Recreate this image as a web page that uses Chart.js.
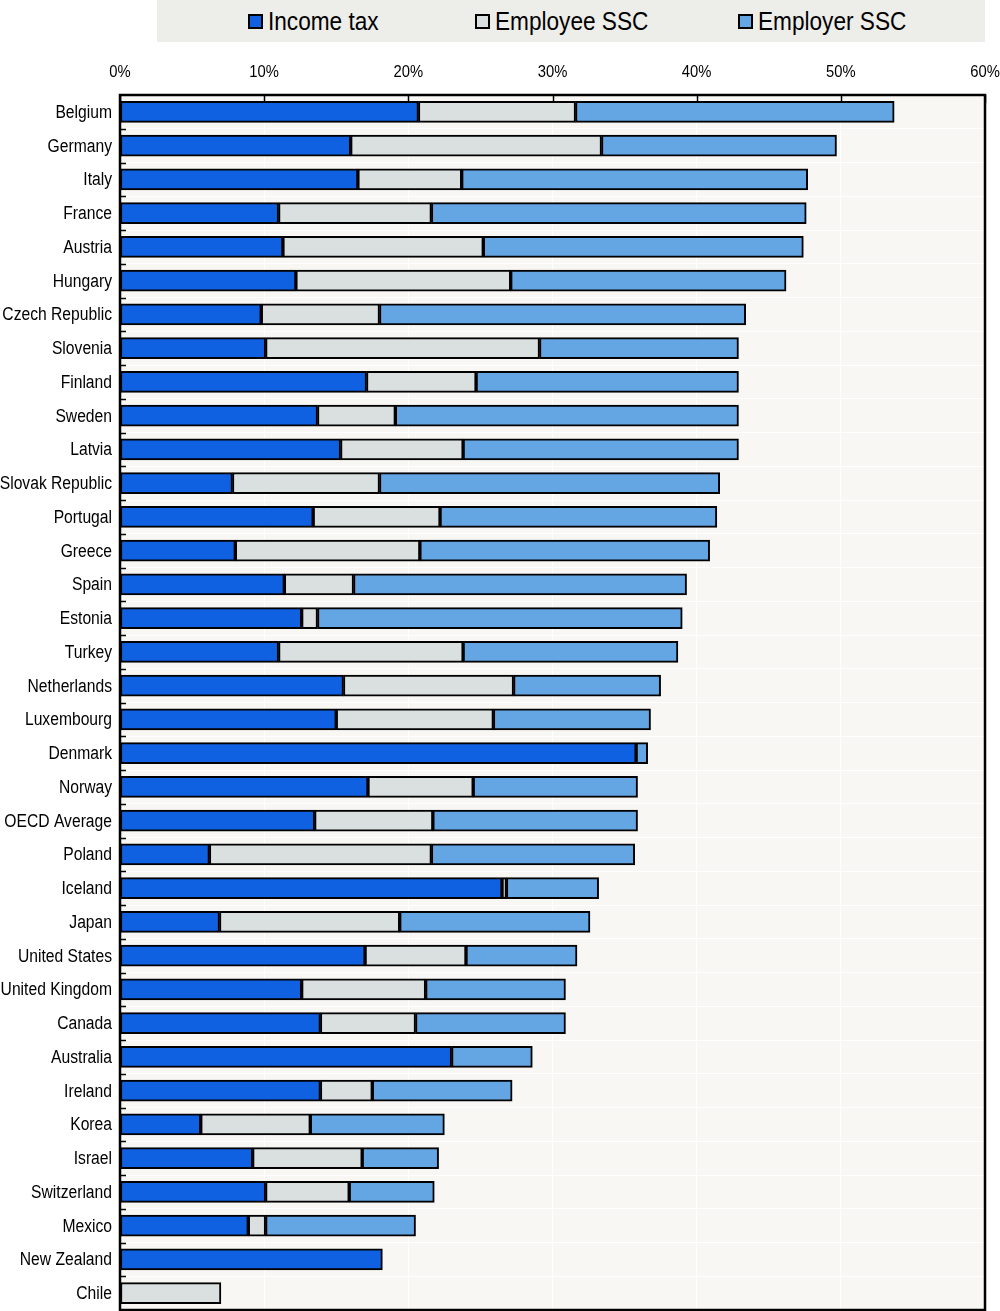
<!DOCTYPE html>
<html>
<head>
<meta charset="utf-8">
<script src="https://cdn.jsdelivr.net/npm/chart.js@4.4.1/dist/chart.umd.min.js"></script>
<style>
  html, body { margin: 0; padding: 0; background: #ffffff; }
  #wrap { position: relative; width: 1000px; height: 1311px; }
  #legend {
    position: absolute; left: 157px; top: 0; width: 828px; height: 42px;
    background: #ededea;
    font-family: "Liberation Sans", Arial, sans-serif;
    font-size: 26px; color: #000;
  }
  .item { position: absolute; top: 0; height: 42px; display: flex; align-items: center; white-space: nowrap; }
  .box { width: 11px; height: 11px; border: 2px solid #000; margin-right: 5px; flex: none; }
  .txt { display: inline-block; transform: scaleX(0.87); transform-origin: left center; }
</style>
</head>
<body>
<div id="wrap">
  <canvas id="chart" width="1000" height="1311"></canvas>
  <div id="legend"></div>
</div>
<script>
const countries = ['Belgium', 'Germany', 'Italy', 'France', 'Austria', 'Hungary', 'Czech Republic',
  'Slovenia', 'Finland', 'Sweden', 'Latvia', 'Slovak Republic', 'Portugal', 'Greece', 'Spain',
  'Estonia', 'Turkey', 'Netherlands', 'Luxembourg', 'Denmark', 'Norway', 'OECD Average', 'Poland',
  'Iceland', 'Japan', 'United States', 'United Kingdom', 'Canada', 'Australia', 'Ireland', 'Korea',
  'Israel', 'Switzerland', 'Mexico', 'New Zealand', 'Chile'];

const incomeTax = [20.7, 16.0, 16.5, 11.0, 11.3, 12.2, 9.8, 10.1, 17.1, 13.7, 15.3, 7.8, 13.4, 8.0,
  11.4, 12.6, 11.0, 15.5, 15.0, 35.8, 17.2, 13.5, 6.2, 26.5, 6.9, 17.0, 12.6, 13.9, 23.0, 13.9, 5.6,
  9.2, 10.1, 8.9, 18.2, null];
const employeeSSC = [10.9, 17.4, 7.2, 10.6, 13.9, 14.9, 8.2, 19.0, 7.6, 5.4, 8.5, 10.2, 8.8, 12.8,
  4.8, 1.1, 12.8, 11.8, 10.9, null, 7.3, 8.2, 15.4, 0.3, 12.5, 7.0, 8.6, 6.6, null, 3.6, 7.6, 7.6,
  5.8, 1.2, null, 7.0];
const employerSSC = [22.1, 16.3, 24.0, 26.0, 22.2, 19.1, 25.4, 13.8, 18.2, 23.8, 19.1, 23.6, 19.2,
  20.1, 23.1, 25.3, 14.9, 10.2, 10.9, 0.8, 11.4, 14.2, 14.1, 6.4, 13.2, 7.7, 9.7, 10.4, 5.6, 9.7, 9.3,
  5.3, 5.9, 10.4, null, null];

const xTicks = [0, 10, 20, 30, 40, 50, 60];

const seriesNames = ['Income tax', 'Employee SSC', 'Employer SSC'];
const seriesColors = ['#0f61e2', '#dadfdf', '#64a5e4'];
const legendLeft = [91, 318, 581];

const labelFont = '"Liberation Sans", Arial, sans-serif';
const squeeze = 0.87; // narrow look, no condensed font installed

// html legend
const legend = document.getElementById('legend');
seriesNames.forEach(function (name, i) {
  legend.insertAdjacentHTML('beforeend',
    `<div class="item" style="left:${legendLeft[i]}px"><div class="box" style="background:${seriesColors[i]}"></div><span class="txt">${name}</span></div>`);
});

function narrowText(ctx, text, x, y, align) {
  ctx.save();
  ctx.translate(x, y);
  ctx.scale(squeeze, 1);
  ctx.textAlign = align;
  ctx.fillText(text, 0, 0);
  ctx.restore();
}

// plot background, inner tick marks, border and labels
const plotDecor = {
  id: 'plotDecor',
  beforeDraw(chart) {
    const ctx = chart.ctx;
    const a = chart.chartArea;
    ctx.save();
    ctx.fillStyle = '#f8f7f4';
    ctx.fillRect(a.left, a.top, a.right - a.left, a.bottom - a.top);
    ctx.restore();
  },
  afterDraw(chart) {
    const ctx = chart.ctx;
    const a = chart.chartArea;
    const x = chart.scales.x;
    const y = chart.scales.y;
    ctx.save();
    ctx.strokeStyle = '#000';
    ctx.lineWidth = 1.5;
    ctx.beginPath();
    xTicks.forEach(function (v) {
      const px = Math.round(x.getPixelForValue(v)) + 0.5;
      ctx.moveTo(px, a.top);
      ctx.lineTo(px, a.top + 8);
    });
    for (let i = 0; i < countries.length - 1; i++) {
      const py = Math.round((y.getPixelForValue(i) + y.getPixelForValue(i + 1)) / 2) + 0.5;
      ctx.moveTo(a.left, py);
      ctx.lineTo(a.left + 6, py);
    }
    ctx.stroke();
    ctx.lineWidth = 2.5;
    ctx.strokeRect(a.left, a.top, a.right - a.left, a.bottom - a.top);

    ctx.fillStyle = '#000';
    ctx.textBaseline = 'middle';
    ctx.font = '17px ' + labelFont;
    xTicks.forEach(function (v) {
      narrowText(ctx, v + '%', x.getPixelForValue(v), a.top - 23, 'center');
    });
    ctx.font = '18px ' + labelFont;
    countries.forEach(function (c, i) {
      narrowText(ctx, c, a.left - 8, y.getPixelForValue(i) + 1, 'right');
    });
    ctx.restore();
  }
};

const datasets = [incomeTax, employeeSSC, employerSSC].map(function (values, i) {
  return {
    label: seriesNames[i],
    data: values,
    backgroundColor: seriesColors[i],
    borderColor: '#000',
    borderWidth: 2,
    borderSkipped: false,
    barThickness: 21
  };
});

new Chart(document.getElementById('chart').getContext('2d'), {
  type: 'bar',
  data: { labels: countries, datasets: datasets },
  options: {
    indexAxis: 'y',
    responsive: false,
    animation: false,
    layout: { padding: { top: 50, right: 15, bottom: 1, left: 0 } },
    plugins: { legend: { display: false }, tooltip: { enabled: false } },
    scales: {
      x: {
        position: 'top',
        stacked: true,
        min: 0,
        max: 60,
        afterFit(scale) { scale.height = 45; },
        afterBuildTicks(scale) { scale.ticks = xTicks.map(v => ({ value: v })); },
        grid: { color: '#ffffff', lineWidth: 1, drawTicks: false },
        border: { display: false },
        ticks: { display: false }
      },
      y: {
        stacked: true,
        afterFit(scale) { scale.width = 120; },
        grid: { color: '#ffffff', lineWidth: 1, drawTicks: false, offset: true },
        border: { display: false },
        ticks: { display: false, autoSkip: false }
      }
    }
  },
  plugins: [plotDecor]
});
</script>
</body>
</html>
